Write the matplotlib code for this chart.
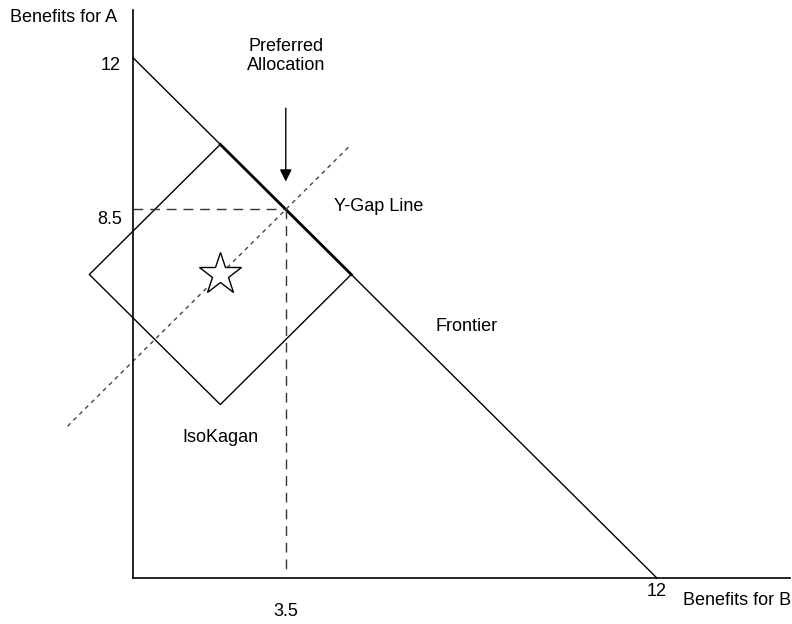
import numpy as np
import matplotlib.pyplot as plt

plt.rcParams['font.family'] = ['Liberation Sans', 'DejaVu Sans']

# frontier: benefits for B vs benefits for A
frontier_b = [0, 12]
frontier_a = [12, 0]

# isoKagan diamond around the ideal point
ideal = (2, 7)
diamond_b = [2, 5, 2, -1, 2]
diamond_a = [10, 7, 4, 7, 10]
# part of the diamond lying on the frontier
touch_b = [2, 5]
touch_a = [10, 7]

# Y-gap line (slope 1 through the ideal point)
ygap_b = [-1.5, 5]
ygap_a = [3.5, 10]

preferred = (3.5, 8.5)

fig = plt.figure(figsize=(7.92, 6.24), dpi=100)
ax = fig.add_axes([133 / 792, 46 / 624, 657 / 792, 568 / 624])
ax.set_xlim(0, 15.05)
ax.set_ylim(0, 13.1)
for s in ['top', 'right']:
    ax.spines[s].set_visible(False)
ax.spines['left'].set_linewidth(1.2)
ax.spines['bottom'].set_linewidth(1.2)
ax.set_xticks([])
ax.set_yticks([])

ax.plot(frontier_b, frontier_a, color='black', lw=1.0, clip_on=False)
ax.plot(diamond_b, diamond_a, color='black', lw=1.0, clip_on=False)
ax.plot(touch_b, touch_a, color='black', lw=2.0)
ax.plot(ygap_b, ygap_a, color='#444444', lw=1.0, ls=(0, (3, 3)), clip_on=False)

# dashed guides to preferred allocation
ax.plot([0, preferred[0]], [preferred[1], preferred[1]], color='#333333', lw=1.0, ls=(0, (7, 5)))
ax.plot([preferred[0], preferred[0]], [preferred[1], 0.15], color='#333333', lw=1.0, ls=(0, (7, 5)))

ax.plot(*ideal, marker='*', markersize=32, markerfacecolor='white',
        markeredgecolor='black', markeredgewidth=1.0)

ax.annotate('', xy=(preferred[0], 9.08), xytext=(preferred[0], 10.9),
            arrowprops=dict(arrowstyle='-|>', color='black', lw=1.0,
                            mutation_scale=18))

fs = 13
ax.text(preferred[0], 12.04, 'Preferred\nAllocation', ha='center', va='center',
        fontsize=fs, linespacing=1.2)
ax.text(4.6, 8.56, 'Y-Gap Line', ha='left', va='center', fontsize=fs)
ax.text(6.93, 5.79, 'Frontier', ha='left', va='center', fontsize=fs)
ax.text(2.0, 3.25, 'IsoKagan', ha='center', va='center', fontsize=fs)

ax.text(-0.28, 11.82, '12', ha='right', va='center', fontsize=fs)
ax.text(-0.25, 8.26, '8.5', ha='right', va='center', fontsize=fs)
ax.text(preferred[0], -0.78, '3.5', ha='center', va='center', fontsize=fs)
ax.text(12.0, -0.32, '12', ha='center', va='center', fontsize=fs)
ax.text(12.6, -0.52, 'Benefits for B', ha='left', va='center', fontsize=fs)
ax.text(-2.82, 12.92, 'Benefits for A', ha='left', va='center', fontsize=fs)

fig.savefig('out.png', dpi=100)
